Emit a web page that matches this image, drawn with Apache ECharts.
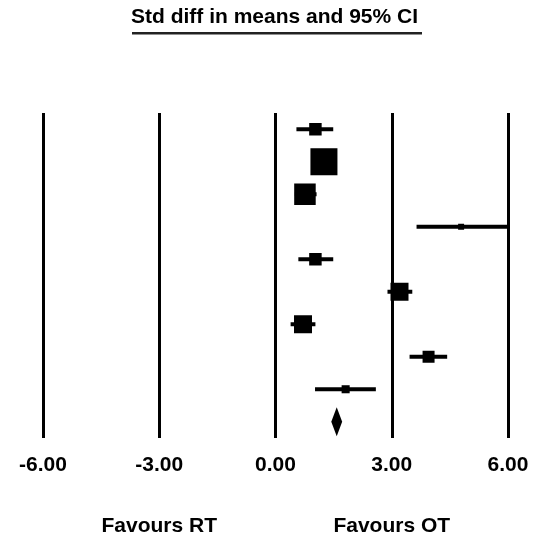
<!DOCTYPE html>
<html>
<head>
<meta charset="utf-8">
<script src="https://cdn.jsdelivr.net/npm/echarts@6/dist/echarts.min.js"></script>
<style>
    html, body { margin: 0; padding: 0; background: #fff; }
    #chart { width: 533px; height: 538px; }
</style>
</head>
<body>
<div id="chart"></div>
<script>
// rows of the forest plot, top to bottom (last one is the pooled estimate)
var rows = ['Study 1', 'Study 2', 'Study 3', 'Study 4', 'Study 5', 'Study 6', 'Study 7', 'Study 8', 'Study 9', 'Overall'];

// std diff in means with 95% CI per study
var means  = [1.03, 1.25, 0.76, 4.79, 1.03, 3.20, 0.71, 3.95, 1.81];
var lowers = [0.54, 1.00, 0.50, 3.64, 0.59, 2.89, 0.39, 3.46, 1.02];
var uppers = [1.49, 1.50, 1.06, 6.00, 1.49, 3.53, 1.03, 4.43, 2.59];
// relative weights (%), square area follows weight
var weights = [6.5, 30.4, 19.3, 1.5, 6.5, 13.5, 13.5, 6.0, 2.7];

// pooled estimate
var pooled = [1.58, 1.44, 1.72];

var xTicks = [-6, -3, 0, 3, 6];
var sideLabels = { '-3': 'Favours RT', '3': 'Favours OT' };

var FONT = 'Liberation Sans, Arial, sans-serif';

var studyData = [];
for (var i = 0; i < means.length; i++) {
    studyData.push([i, means[i], lowers[i], uppers[i], weights[i]]);
}
var pooledData = [[rows.length - 1, pooled[0], pooled[1], pooled[2]]];

function renderStudy(params, api) {
    var y = api.value(0);
    var m = api.coord([api.value(1), y]);
    var lo = api.coord([api.value(2), y]);
    var hi = api.coord([api.value(3), y]);
    var s = 4.9 * Math.sqrt(api.value(4));
    return {
        type: 'group',
        children: [
            { type: 'line', shape: { x1: lo[0], y1: m[1], x2: hi[0], y2: m[1] }, style: { stroke: '#000', lineWidth: 4 } },
            { type: 'rect', shape: { x: m[0] - s / 2, y: m[1] - s / 2, width: s, height: s }, style: { fill: '#000' } }
        ]
    };
}

function renderDiamond(params, api) {
    var y = api.value(0);
    var m = api.coord([api.value(1), y]);
    var lo = api.coord([api.value(2), y]);
    var hi = api.coord([api.value(3), y]);
    var h = 14.5;
    return {
        type: 'polygon',
        shape: { points: [[lo[0], m[1]], [m[0], m[1] - h], [hi[0], m[1]], [m[0], m[1] + h]] },
        style: { fill: '#000' }
    };
}

var myChart = echarts.init(document.getElementById('chart'), null, { renderer: 'canvas' });

var option = {
    backgroundColor: '#fff',
    animation: false,
    title: {
        text: 'Std diff in means and 95% CI',
        left: 131,
        top: 7,
        padding: 0,
        textStyle: { fontFamily: FONT, fontSize: 21, fontWeight: 'bold', color: '#000' }
    },
    graphic: [
        // underline of the title
        { type: 'rect', left: 132, top: 32, shape: { width: 290, height: 2.5 }, style: { fill: '#222' } }
    ],
    grid: { left: 43, right: 25, top: 113, bottom: 100 },
    xAxis: [
        {
            type: 'value',
            min: xTicks[0],
            max: xTicks[xTicks.length - 1],
            interval: 3,
            axisLine: { show: false },
            axisTick: { show: false },
            splitLine: { show: true, lineStyle: { color: '#000', width: 3 } },
            axisLabel: {
                margin: 17,
                fontFamily: FONT, fontSize: 21, fontWeight: 'bold', color: '#000',
                formatter: function (v) { return v.toFixed(2); }
            }
        },
        {
            type: 'value',
            position: 'bottom',
            offset: 61,
            min: xTicks[0],
            max: xTicks[xTicks.length - 1],
            interval: 3,
            axisLine: { show: false },
            axisTick: { show: false },
            splitLine: { show: false },
            axisLabel: {
                margin: 17,
                fontFamily: FONT, fontSize: 21, fontWeight: 'bold', color: '#000',
                formatter: function (v) { return sideLabels[String(v)] || ''; }
            }
        }
    ],
    yAxis: {
        type: 'category',
        data: rows,
        inverse: true,
        show: false
    },
    series: [
        {
            type: 'custom',
            name: 'studies',
            renderItem: renderStudy,
            encode: { x: [1, 2, 3], y: 0 },
            clip: true,
            data: studyData
        },
        {
            type: 'custom',
            name: 'pooled',
            renderItem: renderDiamond,
            encode: { x: [1, 2, 3], y: 0 },
            data: pooledData
        }
    ]
};

myChart.setOption(option);
</script>
</body>
</html>
